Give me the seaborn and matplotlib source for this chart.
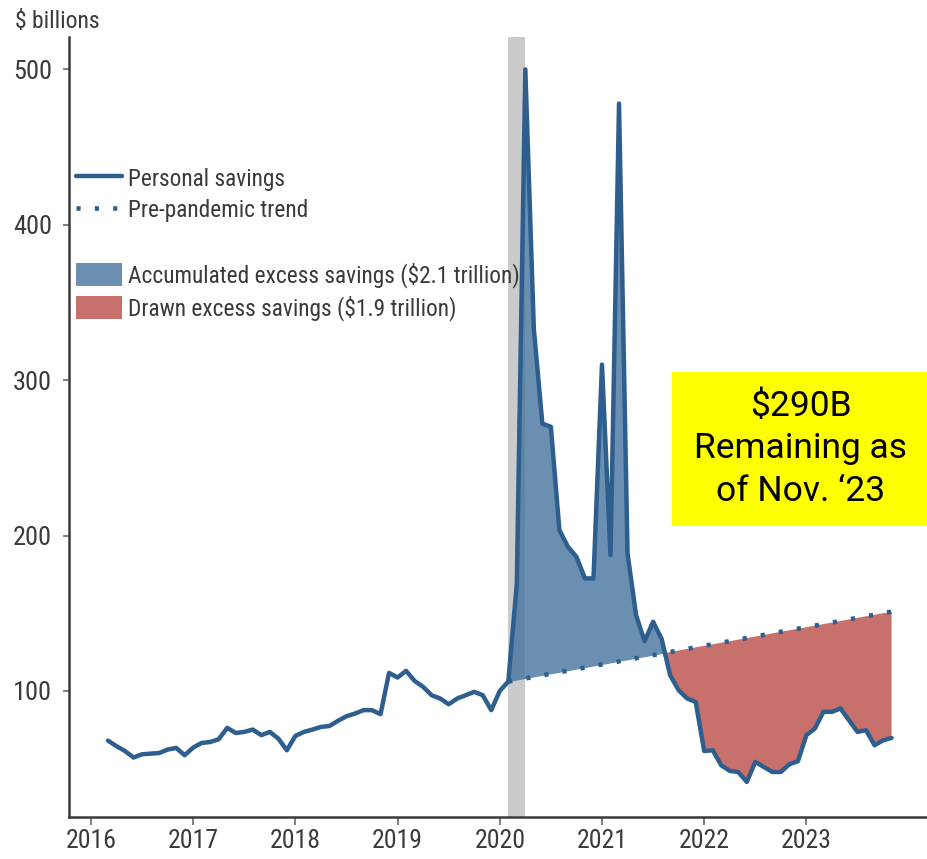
import numpy as np
import pandas as pd
import matplotlib
matplotlib.use("Agg")
import matplotlib.pyplot as plt
from matplotlib import font_manager
from matplotlib.lines import Line2D
from matplotlib.patches import Patch, Rectangle
import seaborn as sns

# Monthly personal savings, $ billions, Mar 2016 - Nov 2023
savings_start = "2016-03"
savings = [
    68, 64.4, 61.3, 57.1, 59.2, 59.6, 60, 62.2, 63.3, 58.6,                 # 2016
    63.5, 66.5, 67.1, 68.9, 76.2, 72.9, 73.6, 75.1, 71.5, 73.6, 69.3, 61.8,  # 2017
    71, 73.6, 75.1, 76.8, 77.4, 80.7, 83.7, 85.4, 87.6, 87.6, 85, 111.6,     # 2018
    108.6, 112.9, 106.4, 102.6, 97.2, 95.1, 91.4, 95.1, 97.2, 99.4, 97.2, 87.6,  # 2019
    100, 106, 169, 500, 333, 272, 270, 203.5, 192.8, 186.3, 172.4, 172.4,    # 2020
    310, 187.4, 478, 188.5, 148.8, 132, 144.5, 133.5, 110.1, 100.4, 95.1, 92.9,  # 2021
    61.3, 61.8, 52.1, 48.5, 47.8, 41.4, 54.3, 51, 47.8, 47.8, 52.8, 54.7,    # 2022
    71.5, 75.8, 86.5, 86.5, 88.7, 81.1, 73.6, 74.7, 65, 68.2, 69.7,          # 2023
]

# Pre-pandemic trend, $ billions, Feb 2020 - Nov 2023
trend_start = "2020-02"
trend = [
    106, 107, 108, 109, 110, 111, 112, 113, 114, 115, 116,
    117, 118, 119, 120, 121, 122, 123, 124, 125, 126, 127, 128,
    129, 130, 131, 132, 133, 134, 135, 136, 137, 138, 139, 140,
    141, 142, 143, 144, 145, 146, 147, 148, 149, 150, 151,
]

recession = ("2020-02", "2020-04")
year_ticks = [2016, 2017, 2018, 2019, 2020, 2021, 2022, 2023]
value_ticks = [100, 200, 300, 400, 500]

legend_labels = [
    "Personal savings",
    "Pre-pandemic trend",
    "Accumulated excess savings ($2.1 trillion)",
    "Drawn excess savings ($1.9 trillion)",
]
note_lines = ["$290B", "Remaining as", "of Nov. \u201823"]

LINE = "#2d5e8e"
BLUE_FILL = "#46739c"
RED_FILL = "#c8706b"
BAR = "#cbcbcb"
INK = "#3a3a3a"


def decimal_years(start, n):
    idx = pd.date_range(start, periods=n, freq="MS")
    return np.asarray(idx.year + (idx.month - 1) / 12.0, dtype=float)


def month_pos(s):
    t = pd.Timestamp(s)
    return t.year + (t.month - 1) / 12.0


def first_installed(candidates):
    names = {f.name for f in font_manager.fontManager.ttflist}
    for c in candidates:
        if c in names:
            return c
    return "DejaVu Sans"


sns.set_style("ticks")
base_font = first_installed(["Roboto Condensed", "Archivo Narrow", "Liberation Sans"])
note_font = first_installed(["Roboto", "Liberation Sans"])
plt.rcParams["font.family"] = [base_font, "DejaVu Sans"]

df = pd.DataFrame({"date": decimal_years(savings_start, len(savings)),
                   "savings": savings})
tr = pd.DataFrame({"date": decimal_years(trend_start, len(trend)),
                   "trend": trend})
win = df.merge(tr, on="date")

fig = plt.figure(figsize=(9.27, 8.59), dpi=100)
ax = fig.add_axes([0.0744, 0.0492, 0.9256, 0.908])

# recession shading
ax.axvspan(month_pos(recession[0]), month_pos(recession[1]), color=BAR, lw=0, zorder=0)

# excess savings areas
ax.fill_between(win["date"], win["savings"], win["trend"],
                where=win["savings"] >= win["trend"], interpolate=True,
                color=BLUE_FILL, alpha=0.8, lw=0, zorder=1)
ax.fill_between(win["date"], win["savings"], win["trend"],
                where=win["savings"] <= win["trend"], interpolate=True,
                color=RED_FILL, alpha=1.0, lw=0, zorder=1)

dot_style = (0, (0.9, 3.1))
sns.lineplot(data=tr, x="date", y="trend", ax=ax, color=LINE, lw=3.3,
             linestyle=dot_style, sort=False, zorder=2)
sns.lineplot(data=df, x="date", y="savings", ax=ax, color=LINE, lw=3.2,
             sort=False, zorder=3)

ax.set_xlim(2015.785, 2024.18)
ax.set_ylim(19, 521)
ax.set_xticks(year_ticks)
ax.set_xticklabels([str(y) for y in year_ticks])
ax.set_yticks(value_ticks)
ax.set_xlabel("")
ax.set_ylabel("")

for side in ("top", "right"):
    ax.spines[side].set_visible(False)
for side in ("left", "bottom"):
    ax.spines[side].set_color(INK)
    ax.spines[side].set_linewidth(1.8)

ax.tick_params(axis="x", length=5.8, width=1.2, color="#6a6a6a", pad=3,
               labelsize=18.5, labelcolor=INK)
ax.tick_params(axis="y", length=4.3, width=1.2, color="#6a6a6a", pad=8,
               labelsize=19, labelcolor=INK)

fig.text(15 / 927, 1 - 22 / 859, "$ billions", ha="left", va="center",
         fontsize=17, color=INK)

handles = [
    Line2D([], [], color=LINE, lw=3.2),
    Line2D([], [], color=LINE, lw=3.3, linestyle=dot_style),
    Line2D([], [], color="none"),
    Patch(facecolor=BLUE_FILL, alpha=0.8, edgecolor="none"),
    Patch(facecolor=RED_FILL, edgecolor="none"),
]
labels = [legend_labels[0], legend_labels[1], " ", legend_labels[2], legend_labels[3]]
leg = ax.legend(handles, labels, loc="upper left", bbox_to_anchor=(0.008, 0.834),
                frameon=False, fontsize=16.8, borderpad=0, borderaxespad=0,
                handlelength=2.0, handleheight=1.12, handletextpad=0.25,
                labelspacing=0.33)
for t in leg.get_texts():
    t.set_color(INK)

# highlighted note
ax.add_patch(Rectangle((0.7025, 0.3732), 0.2976, 0.1975, transform=ax.transAxes,
                       facecolor="#ffff00", edgecolor="none", clip_on=False, zorder=4))
ax.text(0.853, 0.4716, "\n".join(note_lines), transform=ax.transAxes,
        ha="center", va="center", fontsize=25.5, linespacing=1.38,
        family=[note_font, "DejaVu Sans"], color="black", zorder=5)

fig.savefig("out.png", dpi=100)
